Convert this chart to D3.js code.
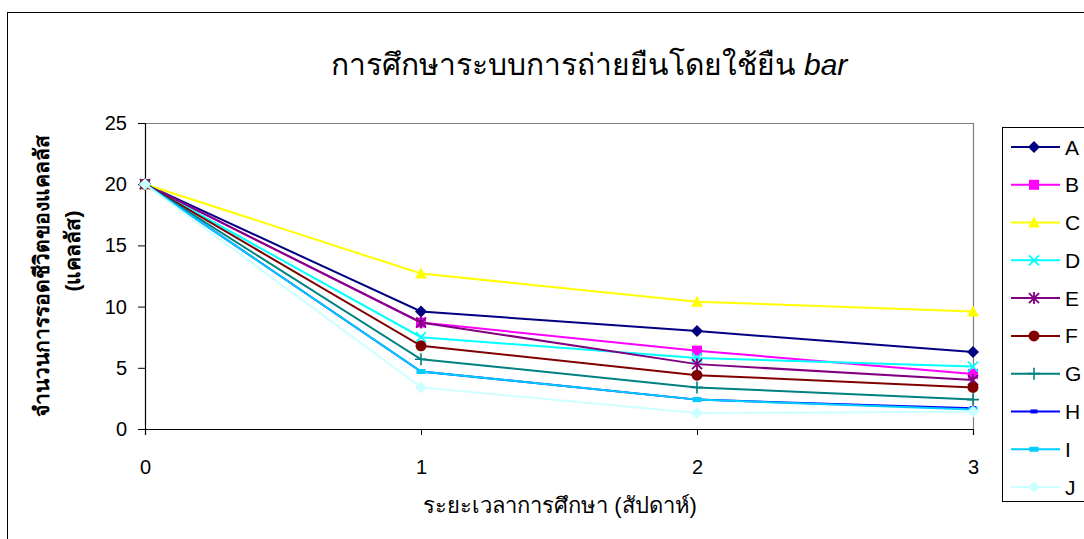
<!DOCTYPE html>
<html>
<head>
<meta charset="utf-8">
<script src="https://cdn.jsdelivr.net/npm/d3@7"></script>
<style>
  html, body { margin: 0; padding: 0; background: #fff; }
  svg { display: block; font-family: "Liberation Sans", Arial, sans-serif; }
</style>
</head>
<body>
<svg id="chart" width="1084" height="539"></svg>
<script>
// Survival counts of callus over the study period, one series per treatment
const weeks = [0, 1, 2, 3];
const seriesNames = ["A", "B", "C", "D", "E", "F", "G", "H", "I", "J"];
const valuesA = [20, 9.6, 8.0, 6.3];
const valuesB = [20, 8.7, 6.4, 4.5];
const valuesC = [20, 12.7, 10.4, 9.6];
const valuesD = [20, 7.5, 5.8, 5.1];
const valuesE = [20, 8.7, 5.3, 4.0];
const valuesF = [20, 6.8, 4.4, 3.4];
const valuesG = [20, 5.7, 3.4, 2.4];
const valuesH = [20, 4.7, 2.4, 1.7];
const valuesI = [20, 4.7, 2.4, 1.6];
const valuesJ = [20, 3.4, 1.3, 1.4];
const yTicks = [0, 5, 10, 15, 20, 25];

const titleText = "การศึกษาระบบการถ่ายยืนโดยใช้ยืน ";
const titleItalic = "bar";
const yLabel1 = "จำนวนการรอดชีวิตของแคลลัส";
const yLabel2 = "(แคลลัส)";
const xLabel = "ระยะเวลาการศึกษา (สัปดาห์)";

const allValues = [valuesA, valuesB, valuesC, valuesD, valuesE, valuesF, valuesG, valuesH, valuesI, valuesJ];
const colors = ["#000080", "#FF00FF", "#FFFF00", "#00FFFF", "#800080", "#800000", "#008080", "#0000FF", "#00CCFF", "#CCFFFF"];
const markers = ["diamond", "square", "triangle", "x", "star", "circle", "plus", "dash", "bar", "diamond"];

const series = seriesNames.map((name, i) => ({
  name, color: colors[i], marker: markers[i],
  points: weeks.map((w, j) => ({ x: w, y: allValues[i][j] }))
}));

const svg = d3.select("#chart");
const fontFamily = "'Liberation Sans', Arial, sans-serif";

// outer chart frame
svg.append("rect").attr("x", 7.5).attr("y", 12.5).attr("width", 1200).attr("height", 600)
  .attr("fill", "none").attr("stroke", "#000").attr("stroke-width", 1);

const plot = { left: 145, right: 973, top: 123, bottom: 429 };
const x = d3.scaleLinear().domain([0, 3]).range([plot.left, plot.right]);
const y = d3.scaleLinear().domain([0, 25]).range([plot.bottom, plot.top]);

// plot area border (top/right grey)
svg.append("path")
  .attr("d", `M${plot.left},${plot.top + 0.5}H${plot.right + 0.5}V${plot.bottom}`)
  .attr("fill", "none").attr("stroke", "#808080").attr("stroke-width", 1.2);

// axes
const yAxis = d3.axisLeft(y).tickValues(yTicks).tickSize(7).tickPadding(11).tickFormat(d3.format("d"));
const gy = svg.append("g").attr("transform", `translate(${plot.left},0)`).call(yAxis);
gy.select(".domain").attr("stroke", "#000").attr("stroke-width", 1.2);
gy.selectAll(".tick line").attr("stroke", "#000");
gy.selectAll(".tick text").attr("font-size", 20).attr("fill", "#000").attr("font-family", fontFamily);

const xAxis = d3.axisBottom(x).tickValues(weeks).tickSize(6).tickPadding(25).tickFormat(d3.format("d"));
const gx = svg.append("g").attr("transform", `translate(0,${plot.bottom})`).call(xAxis);
gx.select(".domain").attr("stroke", "#000").attr("stroke-width", 1.2);
gx.selectAll(".tick line").attr("stroke", "#000");
gx.selectAll(".tick text").attr("font-size", 20).attr("fill", "#000").attr("font-family", fontFamily);

// marker drawing
function drawMarker(g, type, color, cx, cy, s) {
  const h = s / 2;
  switch (type) {
    case "diamond":
      g.append("path").attr("d", `M${cx},${cy - h - 1}L${cx + h + 1},${cy}L${cx},${cy + h + 1}L${cx - h - 1},${cy}Z`).attr("fill", color);
      break;
    case "square":
      g.append("rect").attr("x", cx - h).attr("y", cy - h).attr("width", s).attr("height", s).attr("fill", color);
      break;
    case "triangle":
      g.append("path").attr("d", `M${cx},${cy - h - 1}L${cx + h + 1},${cy + h}L${cx - h - 1},${cy + h}Z`).attr("fill", color);
      break;
    case "x":
      g.append("path").attr("d", `M${cx - h},${cy - h}L${cx + h},${cy + h}M${cx - h},${cy + h}L${cx + h},${cy - h}`)
        .attr("stroke", color).attr("stroke-width", 1.8);
      break;
    case "star":
      g.append("path").attr("d", `M${cx - h},${cy - h}L${cx + h},${cy + h}M${cx - h},${cy + h}L${cx + h},${cy - h}M${cx},${cy - h - 1}L${cx},${cy + h + 1}`)
        .attr("stroke", color).attr("stroke-width", 1.8);
      break;
    case "circle":
      g.append("circle").attr("cx", cx).attr("cy", cy).attr("r", h + 0.5).attr("fill", color);
      break;
    case "plus":
      g.append("path").attr("d", `M${cx},${cy - h - 1}L${cx},${cy + h + 1}M${cx - h - 1},${cy}L${cx + h + 1},${cy}`)
        .attr("stroke", color).attr("stroke-width", 1.6);
      break;
    case "dash":
      g.append("rect").attr("x", cx - 3.5).attr("y", cy - 2).attr("width", 7).attr("height", 4).attr("fill", color);
      break;
    case "bar":
      g.append("rect").attr("x", cx - 4.5).attr("y", cy - 2.5).attr("width", 9).attr("height", 5).attr("fill", color);
      break;
  }
}

const line = d3.line().x(d => x(d.x)).y(d => y(d.y));
const gSeries = svg.append("g");
series.forEach(s => {
  const g = gSeries.append("g");
  g.append("path").datum(s.points).attr("d", line)
    .attr("fill", "none").attr("stroke", s.color).attr("stroke-width", 2);
  s.points.forEach(p => drawMarker(g, s.marker, s.color, x(p.x), y(p.y), 10));
});

// title
const title = svg.append("text").attr("x", 589).attr("y", 75).attr("text-anchor", "middle")
  .attr("font-size", 30).attr("fill", "#000");
title.append("tspan").text(titleText);
title.append("tspan").attr("font-style", "italic").text(titleItalic);

// axis titles
svg.append("text").attr("transform", "translate(49,276) rotate(-90)").attr("text-anchor", "middle")
  .attr("font-size", 21).attr("font-weight", "bold").attr("fill", "#000").text(yLabel1);
svg.append("text").attr("transform", "translate(80,251) rotate(-90)").attr("text-anchor", "middle")
  .attr("font-size", 21).attr("font-weight", "bold").attr("fill", "#000").text(yLabel2);
svg.append("text").attr("x", 560).attr("y", 513).attr("text-anchor", "middle")
  .attr("font-size", 22).attr("fill", "#000").text(xLabel);

// legend
const legend = svg.append("g");
legend.append("rect").attr("x", 1002.5).attr("y", 127.5).attr("width", 200).attr("height", 374)
  .attr("fill", "#fff").attr("stroke", "#000").attr("stroke-width", 1);
const legY = d3.scalePoint().domain(seriesNames).range([147, 487]);
series.forEach(s => {
  const ly = legY(s.name);
  const g = legend.append("g");
  g.append("line").attr("x1", 1011).attr("x2", 1060).attr("y1", ly).attr("y2", ly)
    .attr("stroke", s.color).attr("stroke-width", 2);
  drawMarker(g, s.marker, s.color, 1034, ly, 10);
  g.append("text").attr("x", 1065).attr("y", ly + 7.5).attr("font-size", 21).attr("fill", "#000").text(s.name);
});
</script>
</body>
</html>
